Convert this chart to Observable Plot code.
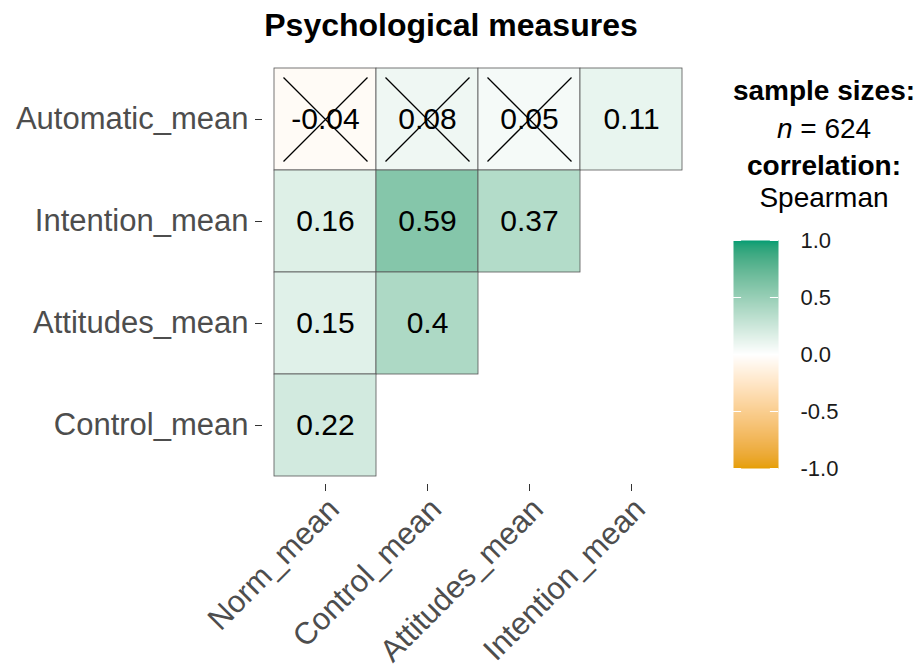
<!DOCTYPE html>
<html><head><meta charset="utf-8">
<script src="https://cdn.jsdelivr.net/npm/d3@7"></script>
<script src="https://cdn.jsdelivr.net/npm/@observablehq/plot@0.6"></script>
<style>
body{margin:0;background:#fff;}
#wrap{position:relative;width:917px;height:671px;overflow:hidden;font-family:"Liberation Sans",Arial,sans-serif;}
#wrap > svg{position:absolute;overflow:visible;}
</style></head><body><div id="wrap"></div>
<script>
// ---- data ----
const xVars = ["Norm_mean", "Control_mean", "Attitudes_mean", "Intention_mean"];
const yVars = ["Automatic_mean", "Intention_mean", "Attitudes_mean", "Control_mean"];
const cellX = ["Norm_mean", "Control_mean", "Attitudes_mean", "Intention_mean",
               "Norm_mean", "Control_mean", "Attitudes_mean",
               "Norm_mean", "Control_mean",
               "Norm_mean"];
const cellY = ["Automatic_mean", "Automatic_mean", "Automatic_mean", "Automatic_mean",
               "Intention_mean", "Intention_mean", "Intention_mean",
               "Attitudes_mean", "Attitudes_mean",
               "Control_mean"];
const rho = [-0.04, 0.08, 0.05, 0.11, 0.16, 0.59, 0.37, 0.15, 0.4, 0.22];
const nonSignificant = [true, true, true, false, false, false, false, false, false, false];
const legendTicks = [-1, -0.5, 0, 0.5, 1];
const titleText = "Psychological measures";
const sampleSize = 624;
const corrType = "Spearman";
const lowColor = "#E69F00", midColor = "#FFFFFF", highColor = "#009E73";

const FONT = '"Liberation Sans", Arial, Helvetica, sans-serif';
const data = rho.map((r, i) => ({x: cellX[i], y: cellY[i], r, label: String(r), crossed: nonSignificant[i]}));
const colorOpts = {type: "linear", domain: [-1, 0, 1], range: [lowColor, midColor, highColor], interpolate: "lab"};

const crossSymbol = {
  draw(ctx, size) {
    const r = Math.sqrt(size / Math.PI);
    ctx.moveTo(-r, -r); ctx.lineTo(r, r);
    ctx.moveTo(r, -r); ctx.lineTo(-r, r);
  }
};

const wrap = document.getElementById("wrap");

const main = Plot.plot({
  width: 917, height: 671,
  marginTop: 67, marginLeft: 262, insetLeft: 11, marginRight: 234, marginBottom: 187, insetBottom: 8,
  style: {fontFamily: FONT, background: "transparent", overflow: "visible"},
  x: {type: "band", domain: xVars, padding: 0, label: null},
  y: {type: "band", domain: yVars, padding: 0, label: null},
  color: colorOpts,
  marks: [
    Plot.cell(data, {x: "x", y: "y", fill: "r", stroke: "#555", strokeWidth: 0.8}),
    Plot.text(data, {x: "x", y: "y", text: "label", fontSize: 30, fill: "black"}),
    Plot.dot(data.filter(d => d.crossed), {x: "x", y: "y", r: 42, symbol: crossSymbol, stroke: "black", strokeWidth: 1.3, fill: "none"}),
    Plot.axisY({fontSize: 31, tickSize: 7, tickPadding: 7, fill: "#4d4d4d", stroke: "#333", label: null}),
    Plot.axisX({fontSize: 31, tickSize: 7, tickPadding: 4, tickRotate: -45, textAnchor: "end", lineAnchor: "top", fill: "#4d4d4d", stroke: "#333", label: null})
  ]
});
main.style.left = "0px"; main.style.top = "0px";
wrap.appendChild(main);

// ---- legend color bar ----
const legend = Plot.plot({
  width: 184, height: 258,
  marginTop: 15, marginBottom: 15, marginLeft: 0, marginRight: 139,
  style: {fontFamily: FONT, background: "transparent", overflow: "visible"},
  x: {domain: [0, 1], axis: null},
  y: {domain: [-1, 1], label: null},
  color: colorOpts,
  marks: [
    Plot.raster({fill: (x, y) => y, x1: 0, x2: 1, y1: -1, y2: 1}),
    Plot.ruleY(legendTicks, {x1: 0, x2: 0.18, stroke: "white", strokeWidth: 1}),
    Plot.ruleY(legendTicks, {x1: 0.82, x2: 1, stroke: "white", strokeWidth: 1}),
    Plot.axisY(legendTicks, {anchor: "right", tickSize: 0, tickPadding: 22, fontSize: 22, fill: "#1a1a1a", tickFormat: d => d.toFixed(1), label: null})
  ]
});
legend.style.left = "733px"; legend.style.top = "225px";
wrap.appendChild(legend);

// ---- title and legend headings ----
const ov = d3.create("svg").attr("width", 917).attr("height", 671)
  .style("left", "0px").style("top", "0px").style("font-family", FONT);
ov.append("text").attr("x", 451).attr("y", 36).attr("text-anchor", "middle")
  .attr("font-size", 32).attr("font-weight", "bold").attr("fill", "black").text(titleText);
const lx = 824;
ov.append("text").attr("x", lx).attr("y", 100).attr("text-anchor", "middle")
  .attr("font-size", 28).attr("font-weight", "bold").text("sample sizes:");
const nt = ov.append("text").attr("x", lx).attr("y", 138).attr("text-anchor", "middle").attr("font-size", 28);
nt.append("tspan").attr("font-style", "italic").text("n");
nt.append("tspan").text(" = " + sampleSize);
ov.append("text").attr("x", lx).attr("y", 175).attr("text-anchor", "middle")
  .attr("font-size", 28).attr("font-weight", "bold").text("correlation:");
ov.append("text").attr("x", lx).attr("y", 207).attr("text-anchor", "middle")
  .attr("font-size", 28).text(corrType);
wrap.appendChild(ov.node());
</script>
</body></html>
